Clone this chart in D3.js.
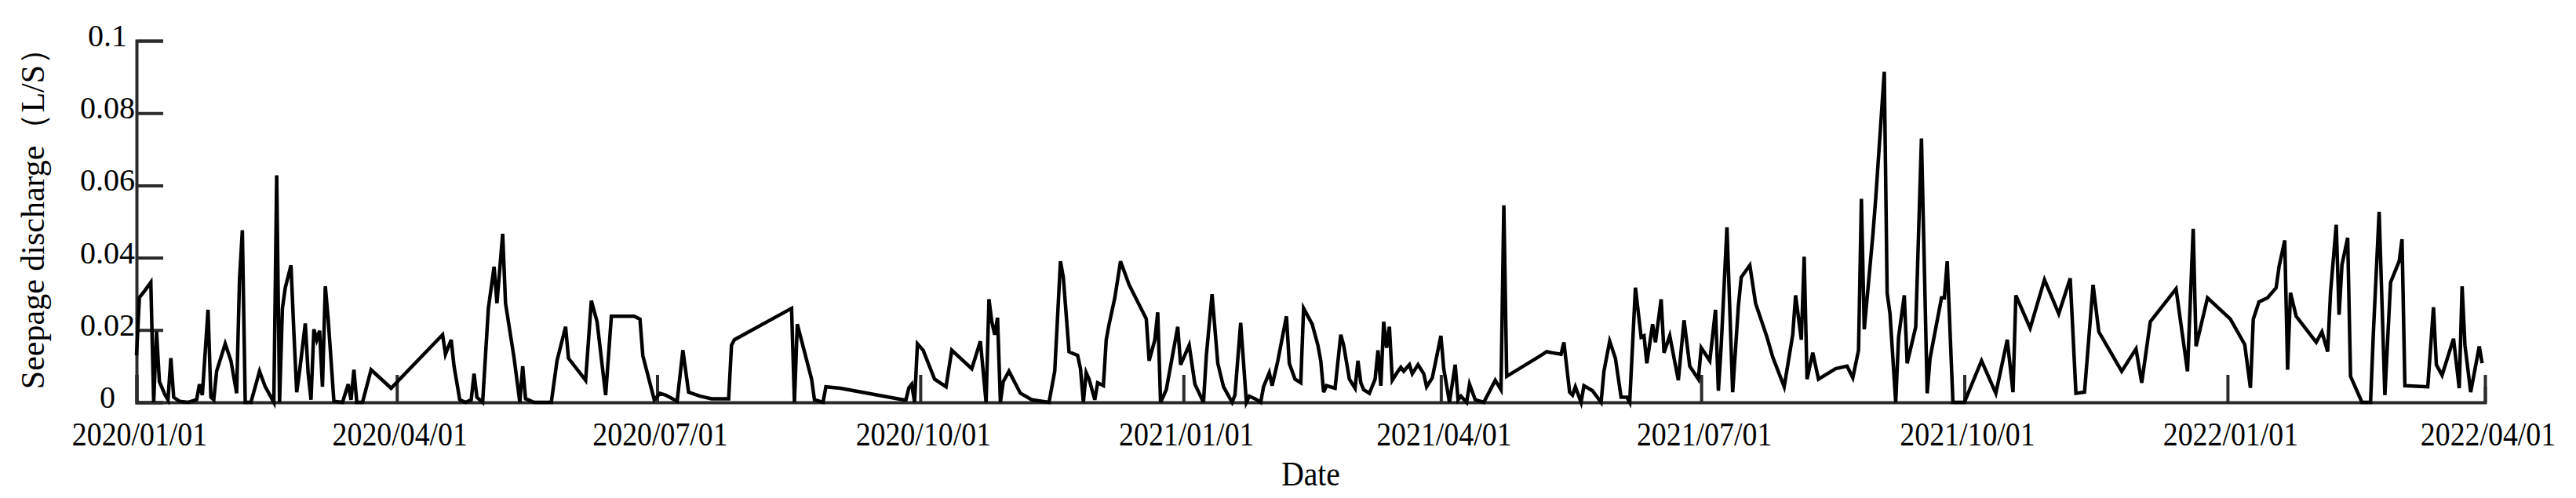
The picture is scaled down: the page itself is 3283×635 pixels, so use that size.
<!DOCTYPE html>
<html>
<head>
<meta charset="utf-8">
<script src="https://cdn.jsdelivr.net/npm/d3@7"></script>
<style>
    body { margin: 0; background: #ffffff; }
    #chart text { font-family: "Liberation Serif", "Times New Roman", serif; fill: #000000; }
</style>
</head>
<body>
<svg id="chart"></svg>
<script>

// start of the record, every reading is given as days after this date
const startDate = "2020/01/01";
const endDate = "2022/04/01";

// days after startDate of each reading
const dayOffsets = [
    0, 1, 3, 5, 6, 7, 8, 10, 11, 12, 13, 15, 18, 21, 22, 23, 25, 26, 27, 28,
    31, 33, 35, 36, 37, 38, 40, 43, 45, 48, 49, 50, 51, 52, 54, 55, 56, 57, 59, 60,
    61, 62, 63, 64, 65, 66, 67, 69, 72, 74, 75, 76, 77, 79, 82, 89, 107, 108, 110, 111,
    113, 115, 117, 118, 119, 121, 123, 125, 126, 128, 129, 132, 134, 135, 136, 139, 145, 147, 150, 151,
    157, 159, 161, 164, 166, 174, 176, 177, 181, 183, 185, 189, 191, 193, 197, 201, 207, 208, 209, 229,
    230, 231, 236, 237, 240, 241, 246, 268, 269, 270, 271, 272, 273, 275, 279, 283, 285, 292, 295, 297,
    298, 299, 300, 301, 302, 303, 305, 309, 313, 319, 321, 323, 324, 326, 328, 329, 330, 331, 332, 333,
    335, 336, 338, 339, 340, 342, 344, 347, 353, 354, 356, 357, 358, 360, 362, 364, 365, 368, 370, 373,
    374, 376, 378, 380, 383, 384, 386, 388, 389, 391, 393, 394, 396, 397, 399, 402, 403, 405, 407, 408,
    411, 413, 414, 415, 416, 419, 421, 422, 424, 426, 427, 428, 429, 431, 433, 434, 435, 436, 437, 438,
    439, 441, 442, 443, 445, 446, 448, 450, 451, 453, 456, 457, 459, 461, 462, 463, 465, 466, 468, 471,
    475, 477, 478, 479, 490, 493, 495, 498, 499, 501, 502, 503, 505, 506, 509, 512, 513, 515, 517, 519,
    521, 522, 524, 526, 527, 528, 530, 531, 533, 534, 536, 539, 541, 543, 546, 547, 550, 552, 553, 554,
    556, 558, 560, 561, 564, 566, 570, 572, 576, 579, 580, 582, 583, 584, 586, 588, 594, 598, 600, 602,
    603, 604, 607, 608, 611, 612, 613, 615, 616, 618, 619, 622, 624, 626, 627, 631, 632, 633, 635, 639,
    645, 650, 654, 656, 657, 662, 667, 672, 676, 678, 681, 684, 686, 694, 699, 701, 704, 713, 717, 719,
    720, 724, 732, 737, 739, 740, 742, 745, 748, 749, 751, 752, 753, 755, 762, 764, 766, 767, 769, 770,
    771, 773, 774, 778, 781, 782, 784, 786, 788, 791, 792, 793, 801, 803, 804, 806, 810, 812, 813, 814,
    816, 819, 820
];

// seepage discharge (L/S) read for each day above
const seepage = [
    0.013, 0.029, 0.031, 0.0332, 0, 0.0195, 0.0057, 0.002, 0.0007, 0.0122, 0.0014, 0.0003, 0, 0.0007, 0.005, 0.002, 0.0256, 0.0014, 0.0007, 0.0086,
    0.0162, 0.0115, 0.0025, 0.034, 0.0476, 0, 0, 0.0086, 0.0043, 0, 0.0628, 0, 0.026, 0.0317, 0.0379, 0.0195, 0.0028, 0.0086, 0.0218, 0.008,
    0.0007, 0.0202, 0.0173, 0.0198, 0.0043, 0.0321, 0.023, 0.0003, 0, 0.005, 0.0007, 0.009, 0, 0, 0.009, 0.0039, 0.0187, 0.0133, 0.0173, 0.01,
    0.0007, 0, 0.0007, 0.0079, 0.0014, 0, 0.026, 0.0375, 0.0274, 0.0466, 0.0274, 0.0122, 0, 0.01, 0.001, 0, 0, 0.0115, 0.0209, 0.0122,
    0.0061, 0.0281, 0.0223, 0.002, 0.0238, 0.0238, 0.023, 0.0129, 0.0007, 0.0025, 0.002, 0.0003, 0.0144, 0.0028, 0.0017, 0.001, 0.001, 0.0158, 0.0173, 0.026,
    0, 0.0216, 0.0064, 0.0007, 0, 0.0043, 0.0039, 0.0007, 0.0007, 0.004, 0.005, 0, 0.0162, 0.0144, 0.0064, 0.0043, 0.0144, 0.0093, 0.0169, 0,
    0.0285, 0.0223, 0.0187, 0.0234, 0, 0.0057, 0.0086, 0.0025, 0.0007, 0, 0.0086, 0.039, 0.0346, 0.014, 0.0133, 0.013, 0.0093, 0, 0.0082, 0.0064,
    0.0007, 0.0054, 0.0046, 0.0173, 0.0216, 0.0289, 0.039, 0.0325, 0.0231, 0.0115, 0.0173, 0.0249, 0, 0.0035, 0.0122, 0.0209, 0.0104, 0.0158, 0.005, 0,
    0.013, 0.0299, 0.0108, 0.0043, 0, 0.002, 0.022, 0, 0.0017, 0.001, 0, 0.0043, 0.0082, 0.0046, 0.0115, 0.0238, 0.0108, 0.0064, 0.0054, 0.026,
    0.0216, 0.0158, 0.0115, 0.0028, 0.0046, 0.0039, 0.0187, 0.0158, 0.0064, 0.0039, 0.0115, 0.0054, 0.0035, 0.0025, 0.0064, 0.0144, 0.0046, 0.0223, 0.0151, 0.0209,
    0.0061, 0.0086, 0.0097, 0.0086, 0.0104, 0.0079, 0.0104, 0.0079, 0.0043, 0.0068, 0.0184, 0.0093, 0, 0.0104, 0.0007, 0.0017, 0, 0.005, 0.0007, 0,
    0.0061, 0.0035, 0.0545, 0.0072, 0.0125, 0.014, 0.0137, 0.0133, 0.0166, 0.0028, 0.002, 0.0043, 0, 0.0046, 0.0032, 0, 0.0086, 0.0169, 0.0122, 0.0014,
    0.0014, 0, 0.0317, 0.018, 0.0184, 0.0108, 0.0216, 0.0166, 0.0285, 0.0137, 0.0184, 0.0061, 0.0227, 0.01, 0.0064, 0.0151, 0.0115, 0.0256, 0.0032, 0.0158,
    0.0484, 0.0028, 0.0267, 0.0346, 0.0379, 0.0274, 0.018, 0.0125, 0.0043, 0.0187, 0.0296, 0.0173, 0.0403, 0.0064, 0.0137, 0.0064, 0.0093, 0.01, 0.0068, 0.0144,
    0.0563, 0.0202, 0.0462, 0.0563, 0.0914, 0.0303, 0.0245, 0, 0.018, 0.0296, 0.0108, 0.0209, 0.073, 0.0025, 0.0122, 0.0289, 0.0289, 0.039, 0, 0,
    0.0115, 0.0025, 0.0173, 0.0028, 0.0296, 0.0205, 0.0339, 0.0245, 0.0343, 0.0025, 0.0028, 0.0325, 0.0195, 0.0086, 0.0148, 0.0054, 0.0223, 0.0314, 0.0086, 0.048,
    0.0155, 0.0289, 0.023, 0.016, 0.004, 0.023, 0.0278, 0.0289, 0.0317, 0.0375, 0.0448, 0.009, 0.0303, 0.0238, 0.0166, 0.0195, 0.014, 0.0303, 0.0491, 0.0242,
    0.038, 0.0455, 0.0072, 0, 0, 0.0195, 0.0527, 0.002, 0.0332, 0.039, 0.0451, 0.0046, 0.0043, 0.0263, 0.0104, 0.0075, 0.0176, 0.0039, 0.0321, 0.0158,
    0.0028, 0.0155, 0.0108
];

// axis ticks
const xTickLabels = [
    "2020/01/01", "2020/04/01", "2020/07/01", "2020/10/01", "2021/01/01",
    "2021/04/01", "2021/07/01", "2021/10/01", "2022/01/01", "2022/04/01"
];
const yTicks = [0, 0.02, 0.04, 0.06, 0.08, 0.1];
const yTickLabels = ["0", "0.02", "0.04", "0.06", "0.08", "0.1"];

const xTitle = "Date";
const yTitle = "Seepage discharge（L/S）";


class SeepageChart {

    constructor(parentElement, data) {
        this.parentElement = parentElement;
        this.data = data;
        this.initVis();
    }

    initVis() {
        let vis = this;

        vis.margin = { top: 52, right: 116, bottom: 122, left: 174 };
        vis.totalWidth = 3283;
        vis.totalHeight = 635;
        vis.width = vis.totalWidth - vis.margin.left - vis.margin.right;
        vis.height = vis.totalHeight - vis.margin.top - vis.margin.bottom;

        vis.root = d3.select("#" + vis.parentElement)
            .attr("width", vis.totalWidth)
            .attr("height", vis.totalHeight);

        vis.svg = vis.root.append("g")
            .attr("transform", `translate(${vis.margin.left}, ${vis.margin.top})`);

        let parse = d3.timeParse("%Y/%m/%d");

        vis.xScale = d3.scaleTime()
            .domain([parse(startDate), parse(endDate)])
            .range([0, vis.width]);

        vis.yScale = d3.scaleLinear()
            .domain([0, 0.1])
            .range([vis.height, 0]);

        // ticks point inward, as in the original figure
        vis.xAxis = d3.axisBottom(vis.xScale)
            .tickValues(xTickLabels.map(parse))
            .tickSize(-35)
            .tickPadding(0)
            .tickFormat("");

        vis.yAxis = d3.axisLeft(vis.yScale)
            .tickValues(yTicks)
            .tickSize(-34)
            .tickFormat("");

        vis.xAxisGroup = vis.svg.append("g")
            .attr("class", "axis x-axis")
            .attr("transform", `translate(0, ${vis.height})`);

        vis.yAxisGroup = vis.svg.append("g")
            .attr("class", "axis y-axis");

        // tick labels (the date labels are a little condensed in the source)
        vis.svg.selectAll(".x-label")
            .data(xTickLabels)
            .join("text")
            .attr("class", "x-label")
            .attr("transform", d => `translate(${vis.xScale(parse(d)) + 4}, ${vis.height + 55}) scale(0.88, 1)`)
            .attr("text-anchor", "middle")
            .style("font-size", "43px")
            .text(d => d);

        vis.svg.selectAll(".y-label")
            .data(yTicks)
            .join("text")
            .attr("class", "y-label")
            .attr("x", -37)
            .attr("y", d => vis.yScale(d) + 7)
            .attr("text-anchor", "middle")
            .style("font-size", "40px")
            .text((d, i) => yTickLabels[i]);

        // axis titles
        vis.svg.append("text")
            .attr("class", "axis-label")
            .attr("transform", `translate(${vis.width / 2}, ${vis.height + 106}) scale(0.9, 1)`)
            .attr("text-anchor", "middle")
            .style("font-size", "44px")
            .text(xTitle);

        vis.svg.append("text")
            .attr("class", "axis-label")
            .attr("transform", `translate(${-118}, ${vis.height / 2 - 14}) rotate(-90)`)
            .attr("text-anchor", "middle")
            .style("font-size", "42px")
            .text(yTitle);

        vis.wrangleData();
    }

    wrangleData() {
        let vis = this;
        let start = d3.timeParse("%Y/%m/%d")(startDate);

        vis.displayData = vis.data.days.map((d, i) => ({
            date: d3.timeDay.offset(start, d),
            value: vis.data.values[i]
        }));

        vis.updateVis();
    }

    updateVis() {
        let vis = this;

        vis.xAxisGroup.call(vis.xAxis);
        vis.yAxisGroup.call(vis.yAxis);

        vis.svg.selectAll(".axis path, .axis line")
            .attr("stroke", "#2b2b2b")
            .attr("stroke-width", 4);

        // the end tick of the date axis is shorter
        vis.xAxisGroup.selectAll(".tick line")
            .filter((d, i, nodes) => i === nodes.length - 1)
            .attr("y2", -20);

        let line = d3.line()
            .x(d => vis.xScale(d.date))
            .y(d => vis.yScale(d.value));

        vis.svg.selectAll(".seepage-line")
            .data([vis.displayData])
            .join("path")
            .attr("class", "seepage-line")
            .attr("fill", "none")
            .attr("stroke", "#000000")
            .attr("stroke-width", 4.5)
            .attr("d", line);
    }
}

new SeepageChart("chart", { days: dayOffsets, values: seepage });

</script>
</body>
</html>
